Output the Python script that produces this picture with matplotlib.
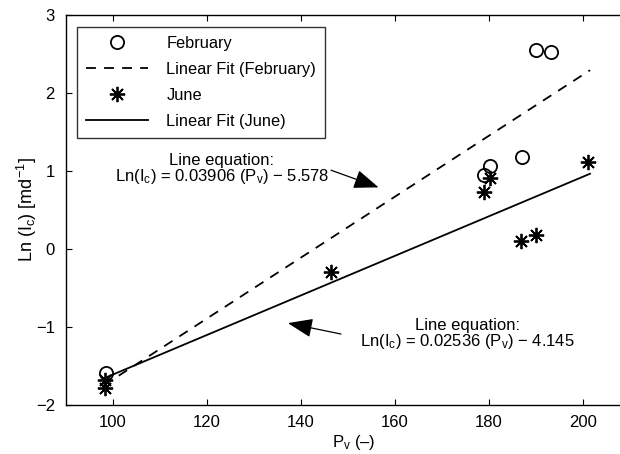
import matplotlib
matplotlib.use("Agg")
import matplotlib.pyplot as plt
import numpy as np

plt.rcParams['font.family'] = ['Liberation Sans', 'DejaVu Sans']
plt.rcParams['mathtext.fontset'] = 'custom'
plt.rcParams['mathtext.rm'] = 'Liberation Sans'
plt.rcParams['mathtext.it'] = 'Liberation Sans:italic'
plt.rcParams['mathtext.default'] = 'regular'

# Data
feb_x = [98.5, 178.9, 180.3, 187.1, 190.0, 193.1]
feb_y = [-1.59, 0.95, 1.06, 1.18, 2.55, 2.53]
jun_x = [98.3, 98.3, 146.4, 179.0, 180.3, 186.9, 190.0, 201.1]
jun_y = [-1.68, -1.78, -0.29, 0.73, 0.91, 0.10, 0.18, 1.11]
feb_slope, feb_int = 0.03906, -5.578
jun_slope, jun_int = 0.02536, -4.145
fit_x = [98.0, 201.5]
xticks = [100, 120, 140, 160, 180, 200]
yticks = [-2, -1, 0, 1, 2, 3]

fig = plt.figure(figsize=(6.2, 4.54), dpi=100)
ax = fig.add_axes([66/620, 49/454, 564/620, 390/454])

fx = np.array(fit_x)
ax.plot(feb_x, feb_y, linestyle='none', marker='o', mfc='none', mec='black',
        ms=9.5, mew=1.3, label='February')
ax.plot(fx, feb_slope*fx + feb_int, 'k--', lw=1.3, dashes=(5.5, 4.5),
        label='Linear Fit (February)')
ax.plot(jun_x, jun_y, linestyle='none', marker=(8, 2, 0), color='black',
        ms=11, mew=1.3, label='June')
ax.plot(fx, jun_slope*fx + jun_int, 'k-', lw=1.3, label='Linear Fit (June)')

ax.set_xlim(90, 210)
ax.set_ylim(-2, 3)
ax.set_xticks(xticks)
ax.set_yticks(yticks)
ax.set_yticklabels(['\u22122', '\u22121', '0', '1', '2', '3'])
ax.tick_params(direction='in', top=True, right=True, labelsize=12, length=4)
ax.tick_params(axis='y', pad=8)
ax.tick_params(axis='x', pad=7)
for s in ax.spines.values():
    s.set_linewidth(1.0)

ax.set_xlabel('P$_v$ (\u2013)', fontsize=12)
ax.xaxis.set_label_coords(0.51, -0.072)
ax.set_ylabel('Ln (I$_c$) [md$^{-1}$]', fontsize=13, labelpad=-2)

leg = ax.legend(loc='upper left', bbox_to_anchor=(0.0195, 0.969), fontsize=11.8,
                frameon=True, fancybox=False, edgecolor='black',
                handlelength=3.8, labelspacing=0.66, borderpad=0.55,
                handletextpad=1.1, borderaxespad=0)
leg.get_frame().set_linewidth(1.0)

arrow = dict(arrowstyle='-|>,head_length=1.1,head_width=0.42',
             color='black', lw=0.9, shrinkA=0, shrinkB=0, mutation_scale=14)

# Annotation for February fit
ax.annotate('', xy=(156.5, 0.79), xytext=(146.4, 1.01), arrowprops=arrow)
ax.text(146.0, 1.02, 'Line equation:\nLn(I$_c$) = 0.03906 (P$_v$) \u2212 5.578',
        ha='right', va='center', fontsize=12, multialignment='center',
        linespacing=0.9)

# Annotation for June fit
ax.annotate('', xy=(137.2, -0.95), xytext=(148.5, -1.09), arrowprops=arrow)
ax.text(152.6, -1.095, 'Line equation:\nLn(I$_c$) = 0.02536 (P$_v$) \u2212 4.145',
        ha='left', va='center', fontsize=12, multialignment='center',
        linespacing=0.9)

fig.savefig('out.png', dpi=100)
